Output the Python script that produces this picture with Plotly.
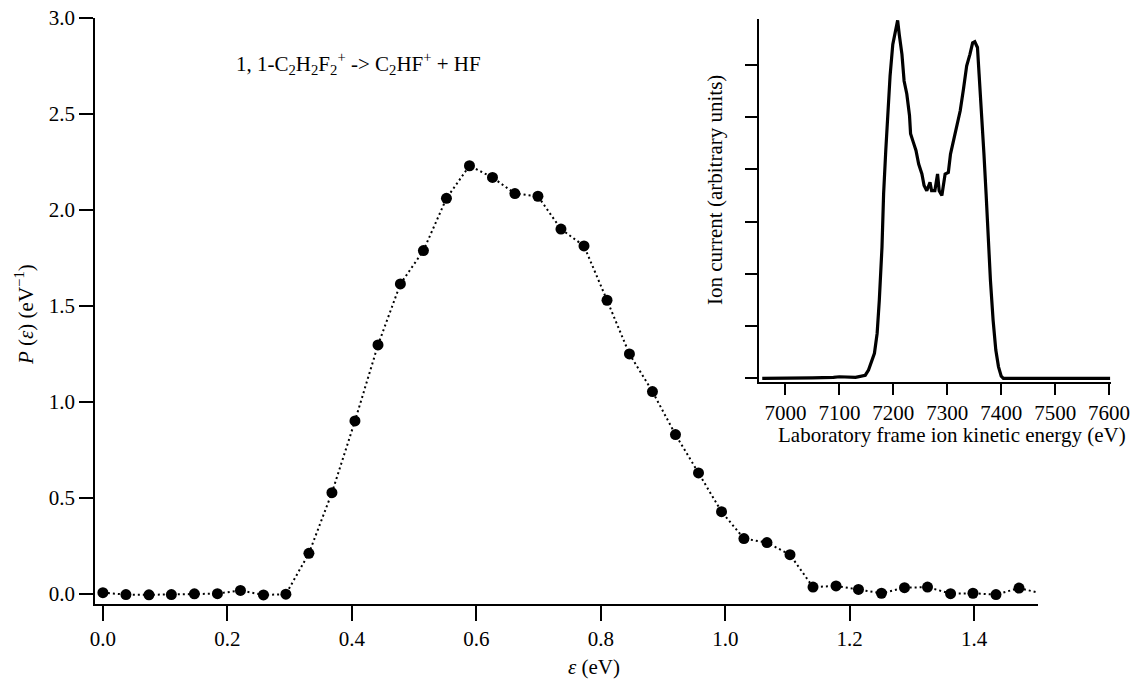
import plotly.graph_objects as go

# ---------------- data ----------------
eps = [0.000, 0.037, 0.074, 0.110, 0.147, 0.184, 0.221, 0.258, 0.294, 0.331,
       0.368, 0.405, 0.442, 0.478, 0.515, 0.552, 0.589, 0.626, 0.662, 0.699,
       0.736, 0.773, 0.810, 0.846, 0.883, 0.920, 0.957, 0.994, 1.030, 1.067,
       1.104, 1.141, 1.178, 1.214, 1.251, 1.288, 1.325, 1.362, 1.398, 1.435,
       1.472]
p_eps = [0.005, -0.005, -0.006, -0.005, -0.001, 0.000, 0.017, -0.007, -0.003, 0.210,
         0.526, 0.900, 1.296, 1.614, 1.788, 2.060, 2.230, 2.169, 2.085, 2.071,
         1.900, 1.812, 1.529, 1.249, 1.053, 0.829, 0.629, 0.427, 0.287, 0.266,
         0.203, 0.034, 0.040, 0.022, 0.002, 0.031, 0.034, 0.000, 0.002, -0.005,
         0.029]
# dotted line continuing past the last point to the axis edge
tail_eps = [1.472, 1.512]
tail_p = [0.029, -0.002]

# inset: laboratory-frame ion kinetic energy spectrum
lab_e = [6957, 7000, 7050, 7089, 7100, 7130, 7148, 7154, 7160, 7165, 7170, 7174,
         7179, 7182, 7186, 7190, 7194, 7199, 7205, 7208, 7211, 7216, 7220, 7225,
         7230, 7232, 7237, 7242, 7247, 7253, 7257, 7262, 7268, 7271, 7277, 7282,
         7285, 7290, 7296, 7302, 7306, 7311, 7318, 7324, 7330, 7336, 7342, 7347,
         7351, 7356, 7359, 7364, 7368, 7372, 7376, 7380, 7385, 7390, 7395, 7400,
         7404, 7450, 7500, 7602]
ion_cur = [0.00, 0.00, 0.01, 0.02, 0.03, 0.02, 0.06, 0.16, 0.32, 0.48, 0.86, 1.49,
           2.51, 3.53, 4.36, 5.12, 5.79, 6.39, 6.74, 6.85, 6.58, 6.20, 5.69, 5.44,
           5.03, 4.68, 4.52, 4.36, 4.10, 3.91, 3.69, 3.59, 3.75, 3.59, 3.59, 3.91,
           3.59, 3.50, 3.91, 3.94, 4.29, 4.52, 4.80, 5.12, 5.53, 5.98, 6.20, 6.42,
           6.44, 6.33, 5.82, 5.06, 4.29, 3.53, 2.64, 1.88, 1.11, 0.54, 0.22, 0.04,
           0.00, 0.00, 0.00, 0.00]

main_xticks = [0.0, 0.2, 0.4, 0.6, 0.8, 1.0, 1.2, 1.4]
main_yticks = [0.0, 0.5, 1.0, 1.5, 2.0, 2.5, 3.0]
inset_xticks = [7000, 7100, 7200, 7300, 7400, 7500, 7600]
inset_yticks = [0, 1, 2, 3, 4, 5, 6]

# ---------------- figure ----------------
FONT = "Liberation Serif, Times New Roman, serif"
FS = 21
fig = go.Figure()

fig.add_trace(go.Scatter(x=tail_eps, y=tail_p, mode="lines",
                         line=dict(color="black", width=2, dash="2px,3px"),
                         xaxis="x", yaxis="y", showlegend=False, hoverinfo="skip"))
fig.add_trace(go.Scatter(x=eps, y=p_eps, mode="lines+markers",
                         line=dict(color="black", width=2, dash="2px,3px"),
                         marker=dict(color="black", size=11),
                         xaxis="x", yaxis="y", showlegend=False))
fig.add_trace(go.Scatter(x=lab_e, y=ion_cur, mode="lines",
                         line=dict(color="black", width=3.2),
                         xaxis="x2", yaxis="y2", showlegend=False))

L, R, T, B = 95, 15, 18, 76
W, H = 1130, 680
pw = W - L - R
ph = H - T - B


def px(x):
    return (x - L) / pw


def py(y):
    return (H - B - y) / ph


axis_common = dict(showline=True, linecolor="black", linewidth=1.5, ticks="outside",
                   tickcolor="black", tickwidth=1.5, showgrid=False, zeroline=False,
                   automargin=False,
                   tickfont=dict(family=FONT, size=FS, color="black"))

fig.update_layout(
    width=W, height=H,
    margin=dict(l=L, r=R, t=T, b=B),
    paper_bgcolor="white", plot_bgcolor="rgba(0,0,0,0)",
    font=dict(family=FONT, size=FS, color="black"),
    xaxis=dict(domain=[0, px(1038)], range=[-0.0127, 1.5025], tickvals=main_xticks,
               tickformat=".1f", ticklen=15, anchor="y", **axis_common),
    yaxis=dict(domain=[0, 1], range=[-0.054, 3.0], tickvals=main_yticks,
               tickformat=".1f", ticklen=14, anchor="x", **axis_common),
    xaxis2=dict(domain=[px(759), px(1110.5)], range=[6951, 7602.6],
                tickvals=inset_xticks, ticklen=11, anchor="y2",
                ticklabeloverflow="allow", **axis_common),
    yaxis2=dict(domain=[py(382), py(19.3)], range=[-0.07, 6.87],
                tickvals=inset_yticks, showticklabels=False, ticklen=12,
                anchor="x2", **axis_common),
)

ann = dict(xref="paper", yref="paper", showarrow=False,
           font=dict(family=FONT, size=FS, color="black"))
fig.add_annotation(x=px(358), y=py(63),
                   text="1, 1-C<sub>2</sub>H<sub>2</sub>F<sub>2</sub><sup>+</sup> -&gt; "
                        "C<sub>2</sub>HF<sup>+</sup> + HF",
                   xanchor="center", yanchor="middle", **ann)
fig.add_annotation(x=px(594), y=py(667), text="<i>ε</i> (eV)",
                   xanchor="center", yanchor="middle", **ann)
fig.add_annotation(x=px(24), y=py(315), text="<i>P</i> (<i>ε</i>) (eV<sup>−1</sup>)",
                   textangle=-90, xanchor="center", yanchor="middle", **ann)
fig.add_annotation(x=px(952), y=py(435),
                   text="Laboratory frame ion kinetic energy (eV)",
                   xanchor="center", yanchor="middle", **ann)
fig.add_annotation(x=px(715), y=py(190), text="Ion current (arbitrary units)",
                   textangle=-90, xanchor="center", yanchor="middle", **ann)

fig.write_html("out.html",
               config={"displayModeBar": False},
               post_script="document.documentElement.style.margin='0';"
                           "document.body.style.margin='0';"
                           "document.body.style.overflow='hidden';")
